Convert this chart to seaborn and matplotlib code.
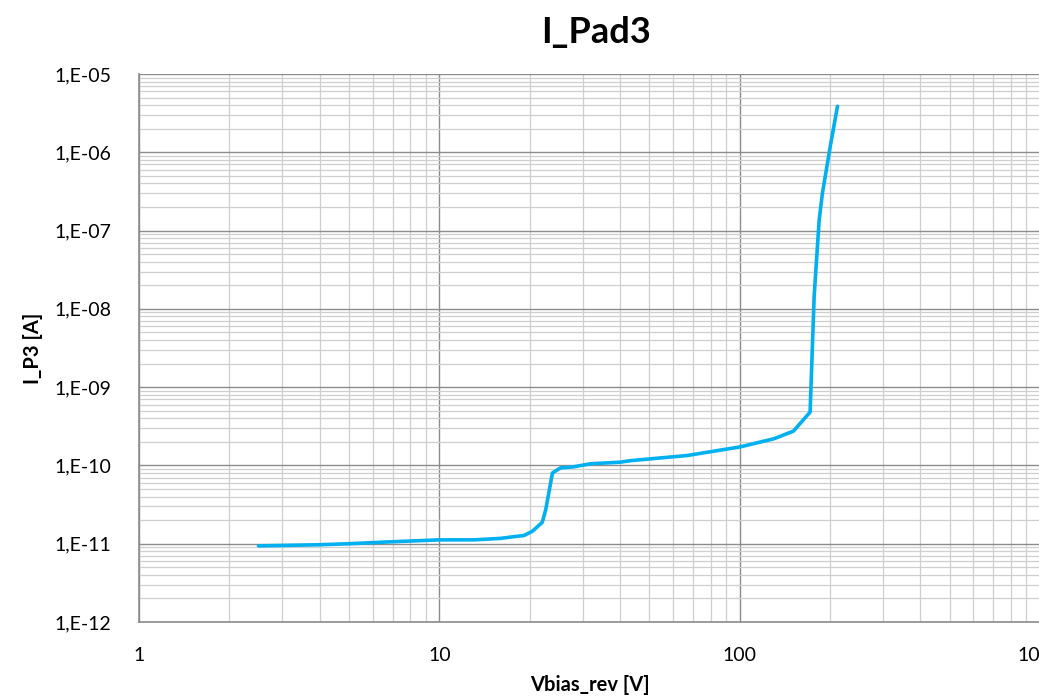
import matplotlib
matplotlib.use("Agg")
import matplotlib.pyplot as plt
import matplotlib.ticker as mticker
import seaborn as sns
import pandas as pd
import numpy as np

voltage = [2.5, 3.0, 4.0, 5.0, 7.0, 10.0, 13.0, 16.0, 18.0, 19.1, 20.4, 22.0, 22.6,
           23.8, 25.3, 28.0, 31.9, 40.0, 43.3, 67.0, 100.0, 130.0, 151.0, 171.6,
           177.0, 184.0, 188.6, 201.0, 211.7]
current = [9.4e-12, 9.5e-12, 9.7e-12, 1.0e-11, 1.06e-11, 1.12e-11, 1.12e-11, 1.17e-11,
           1.24e-11, 1.27e-11, 1.44e-11, 1.87e-11, 2.7e-11,
           8.0e-11, 9.3e-11, 9.6e-11, 1.05e-10, 1.1e-10, 1.15e-10, 1.34e-10, 1.72e-10,
           2.19e-10, 2.74e-10, 4.8e-10,
           1.44e-8, 1.38e-7, 3.0e-7, 1.29e-6, 3.87e-6]

y_ticks = [1e-12, 1e-11, 1e-10, 1e-9, 1e-8, 1e-7, 1e-6, 1e-5]
y_labels = ["1,E-12", "1,E-11", "1,E-10", "1,E-09", "1,E-08", "1,E-07", "1,E-06", "1,E-05"]
x_ticks = [1, 10, 100, 1000]
x_labels = ["1", "10", "100", "1000"]

title = "I_Pad3"
xlabel = "Vbias_rev [V]"
ylabel = "I_P3 [A]"

sns.set_style("white")
plt.rcParams['font.family'] = ['Lato', 'DejaVu Sans']
plt.rcParams['text.color'] = 'black'
plt.rcParams['axes.labelcolor'] = 'black'
plt.rcParams['xtick.color'] = 'black'
plt.rcParams['ytick.color'] = 'black'

df = pd.DataFrame({"V": voltage, "I": current})

fig = plt.figure(figsize=(10.39, 6.98), dpi=100)
ax = fig.add_axes([139/1039, 1 - 622/698, (1040 - 139)/1039, (622 - 74)/698])

sns.lineplot(data=df, x="V", y="I", ax=ax, color="#00B0F0", linewidth=2.6,
             sort=False, estimator=None, zorder=5)

ax.set_xscale("log")
ax.set_yscale("log")
ax.set_xlim(1, 1000)
ax.set_ylim(1e-12, 1e-5)

ax.xaxis.set_major_locator(mticker.FixedLocator(x_ticks))
ax.xaxis.set_major_formatter(mticker.FixedFormatter(x_labels))
ax.yaxis.set_major_locator(mticker.FixedLocator(y_ticks))
ax.yaxis.set_major_formatter(mticker.FixedFormatter(y_labels))
ax.xaxis.set_minor_locator(mticker.LogLocator(base=10, subs=np.arange(2, 10), numticks=20))
ax.yaxis.set_minor_locator(mticker.LogLocator(base=10, subs=np.arange(2, 10), numticks=20))
ax.xaxis.set_minor_formatter(mticker.NullFormatter())
ax.yaxis.set_minor_formatter(mticker.NullFormatter())

ax.grid(which="major", color="#8c8c8c", linewidth=1.0)
ax.grid(which="minor", color="#cfcfcf", linewidth=0.9)
ax.set_axisbelow(True)

ax.tick_params(which="both", length=0)
ax.tick_params(axis="y", labelsize=14, pad=20)
ax.tick_params(axis="x", labelsize=14, pad=18)

for side in ["top", "right"]:
    ax.spines[side].set_visible(False)
for side in ["left", "bottom"]:
    ax.spines[side].set_color("#8c8c8c")
    ax.spines[side].set_linewidth(1.2)

ax.set_xlabel(xlabel, fontsize=14.5, fontweight="bold", labelpad=8)
ax.set_ylabel(ylabel, fontsize=14.5, fontweight="bold", labelpad=8)
fig.text(596/1039, 1 - 32/698, title, fontsize=26, fontweight="bold",
         ha="center", va="center")

fig.savefig("out.png", dpi=100)
